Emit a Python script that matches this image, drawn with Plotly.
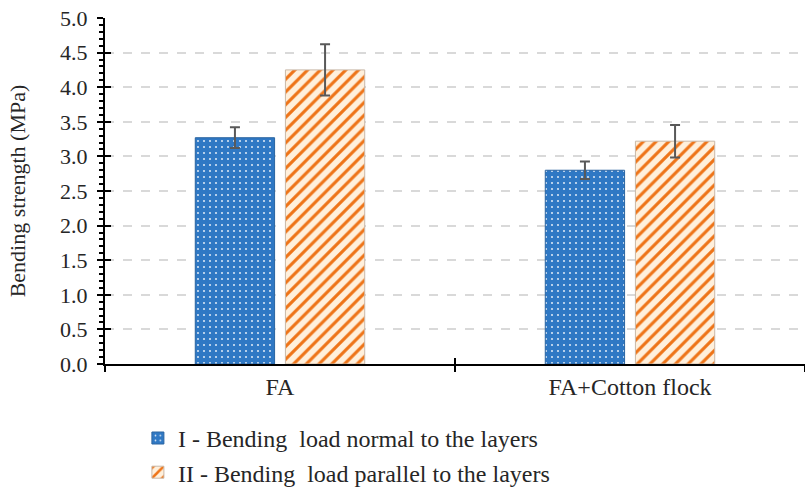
import plotly.graph_objects as go

categories = ["FA", "FA+Cotton flock"]
series_names = ["I - Bending  load normal to the layers",
                "II - Bending  load parallel to the layers"]
normal_vals = [3.27, 2.80]
normal_err = [0.15, 0.125]
parallel_vals = [4.25, 3.22]
parallel_err = [0.37, 0.235]
y_ticks = [0.0, 0.5, 1.0, 1.5, 2.0, 2.5, 3.0, 3.5, 4.0, 4.5, 5.0]

FONT = '"Liberation Serif", "Times New Roman", serif'
TXT = "#262626"

fig = go.Figure()
fig.add_trace(go.Bar(
    x=categories, y=normal_vals, name=series_names[0], legendgroup="a",
    error_y=dict(type="data", array=normal_err, color="#595959", thickness=2, width=5),
    marker=dict(color="#2F78C4",
                pattern=dict(shape=".", fgcolor="#FFFFFF", bgcolor="#2F78C4",
                             size=6, solidity=0.1, fillmode="overlay", fgopacity=0.8),
                line=dict(color="#2A64A0", width=1)),
))
fig.add_trace(go.Bar(
    x=categories, y=parallel_vals, name=series_names[1], legendgroup="b",
    error_y=dict(type="data", array=parallel_err, color="#595959", thickness=2, width=5),
    marker=dict(color="#FFF0DC",
                pattern=dict(shape="/", fgcolor="#EE7418", bgcolor="#FFF0DC",
                             size=9, solidity=0.35, fillmode="overlay", fgopacity=1),
                line=dict(color="#C9B8A8", width=1)),
))
# invisible helper trace for overlay axes (crossing ticks)
fig.add_trace(go.Scatter(x=categories, y=[None, None], xaxis="x2", yaxis="y2",
                         showlegend=False, hoverinfo="skip"))

fig.update_layout(
    width=805, height=495,
    margin=dict(l=105, r=0, t=18, b=129),
    paper_bgcolor="white", plot_bgcolor="white",
    barmode="group", bargap=0.485, bargroupgap=0.12,
    font=dict(family=FONT, size=22, color=TXT),
    showlegend=True,
    legend=dict(x=0.047, y=-0.15, xanchor="left", yanchor="top",
                orientation="v", tracegroupgap=0,
                font=dict(family=FONT, size=24, color=TXT),
                bgcolor="rgba(0,0,0,0)"),
    xaxis=dict(range=[-0.5, 1.5], showline=True, linecolor="black", linewidth=2,
               ticks="outside", tickson="boundaries", ticklen=6, tickwidth=2,
               tickcolor="black", showgrid=False, zeroline=False,
               tickfont=dict(family=FONT, size=24, color=TXT)),
    yaxis=dict(range=[0, 5.0], tickvals=y_ticks, ticktext=[f"{v:.1f}" for v in y_ticks],
               showline=True, linecolor="black", linewidth=2,
               ticks="outside", ticklen=6, tickwidth=2, tickcolor="black",
               ticklabelstandoff=5,
               minor=dict(dtick=0.1, ticks="outside", ticklen=4, tickwidth=1.5,
                          tickcolor="black", showgrid=False),
               showgrid=True, gridcolor="#D9D9D9", gridwidth=1.5, griddash="dash",
               zeroline=False,
               title=dict(text="Bending strength (MPa)", standoff=28,
                          font=dict(family=FONT, size=22, color=TXT)),
               tickfont=dict(family=FONT, size=22, color=TXT)),
    xaxis2=dict(range=[-0.5, 1.5], overlaying="x", matches="x", showline=False,
                ticks="inside", tickson="boundaries", ticklen=6, tickwidth=2,
                tickcolor="black", showticklabels=False, showgrid=False, zeroline=False),
    yaxis2=dict(range=[0, 5.0], overlaying="y", tickvals=y_ticks, showline=False,
                ticks="inside", ticklen=6, tickwidth=2, tickcolor="black",
                showticklabels=False, showgrid=False, zeroline=False),
)

fig.write_html("out.html")
